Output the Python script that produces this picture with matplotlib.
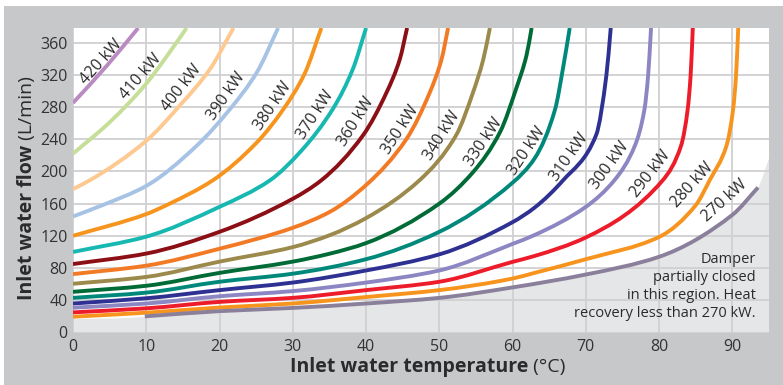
import numpy as np
import matplotlib.pyplot as plt
from matplotlib.patches import Rectangle, PathPatch
from matplotlib.path import Path

plt.rcParams['font.family'] = ['Open Sans', 'DejaVu Sans']

# values: inlet temperature (C) and flow (L/min) per curve
t420 = [0, 4.6, 8.9]
f420 = [285, 331, 378]
t410 = [0, 5, 10, 13.2, 15.5]
f410 = [222, 261, 309, 348, 378]
t400 = [0, 2.3, 10, 14.6, 18.7, 21.9]
f400 = [178, 189, 238, 282, 327, 378]
t390 = [0, 4, 10, 16.9, 21.4, 25.1, 28]
f390 = [144, 158, 182, 232, 277, 323, 378]
t380 = [0, 10, 13.2, 19.1, 25.1, 28.7, 31.6, 33.9]
f380 = [120, 147, 160, 189, 236, 277, 321, 378]
t370 = [0, 10, 20, 26.9, 31.2, 35.5, 38.2, 40]
f370 = [100, 119, 156, 189, 226, 278, 327, 378]
t360 = [0, 10, 20, 30, 33.9, 39.6, 42.8, 44.6, 45.6]
f360 = [85, 98, 125, 166, 189, 245, 298, 339, 378]
t350 = [0, 10, 20, 30, 35.1, 40, 45.5, 48.7, 50.3, 51.2]
f350 = [72.5, 83, 104, 130, 150, 183, 240, 298, 339, 378]
t340 = [0, 10, 20, 30, 35.1, 40, 47.3, 52.3, 54.6, 56, 56.9]
f340 = [60.5, 69, 88, 106, 121, 142, 189, 245, 298, 339, 378]
t330 = [0, 10, 20, 30, 35.1, 40, 50, 54.6, 58.3, 60.5, 61.9, 62.6]
f330 = [50.5, 58, 74, 88, 98, 111, 160, 199, 249, 303, 344, 378]
t320 = [0, 10, 20, 30, 40, 50, 60, 63, 65.8, 66.9, 67.8]
f320 = [43, 49.5, 63, 73, 91, 125, 186, 216, 277, 329, 378]
t310 = [0, 10, 20, 30, 40, 50, 60, 63, 66.9, 71.4, 72.8, 73.4]
f310 = [36, 42.5, 52.6, 62, 77, 97, 137, 155, 189, 245, 319, 378]
t300 = [0, 10, 20, 30, 40, 50, 60, 63, 70, 73.9, 76.7, 78, 78.5, 78.9]
f300 = [30.8, 36, 45, 51.4, 62, 77, 110, 121, 156, 189, 232, 277, 319, 378]
t290 = [0, 10, 20, 30, 40, 50, 60, 63, 70, 80.5, 83, 83.9, 84.3, 84.6]
f290 = [25, 30, 38, 43, 52.6, 63, 87.7, 95, 118, 189, 232, 277, 319, 378]
t280 = [0, 10, 20, 30, 40, 50, 60, 63, 70, 80, 85, 86.9, 89.2, 90.1, 90.5, 90.8]
f280 = [19.6, 24.6, 31, 36, 44, 52.6, 67, 74, 91, 118.6, 158, 189, 232, 277, 319, 378]
t270 = [9.8, 20, 30, 40, 50, 60, 70, 80, 90, 93.5]
f270 = [20, 26.5, 30.5, 36, 43, 56, 72, 94, 146, 180]

power = [420, 410, 400, 390, 380, 370, 360, 350, 340, 330, 320, 310, 300, 290, 280, 270]
colors = ['#b98bc2', '#c5df98', '#fdc990', '#a6c3e6', '#f7941d', '#17b8b1',
          '#8b0f15', '#f37a25', '#9b8a4b', '#006b37', '#00897a', '#2e3192',
          '#8c86c3', '#ed1c2a', '#f7941d', '#8b809c']
temps = [t420, t410, t400, t390, t380, t370, t360, t350, t340, t330, t320, t310, t300, t290, t280, t270]
flows = [f420, f410, f400, f390, f380, f370, f360, f350, f340, f330, f320, f310, f300, f290, f280, f270]

# label centre (temp, flow) and angle
lab_t = [3.8, 9.2, 14.8, 21.0, 27.3, 33.1, 38.7, 44.7, 50.4, 56.1, 62.0, 67.8, 73.3, 78.8, 84.5, 88.9]
lab_f = [336, 317, 304, 293, 281, 270, 262, 252, 244, 236, 225, 218, 207, 197, 183, 163]
lab_rot = [48, 49, 52, 55, 56, 57, 58, 57, 58, 56, 56, 55, 54, 52, 48, 42]

x_ticks = list(range(0, 100, 10))
y_ticks = list(range(0, 400, 40))


def smooth_path(x, y):
    # monotone cubic (Fritsch-Carlson) through the read points, drawn as bezier segments
    x = np.asarray(x, float)
    y = np.asarray(y, float)
    h = np.diff(x)
    d = np.diff(y) / h
    m = np.empty_like(y)
    m[0], m[-1] = d[0], d[-1]
    for k in range(1, len(x) - 1):
        if d[k - 1] * d[k] <= 0:
            m[k] = 0
        else:
            w1 = 2 * h[k] + h[k - 1]
            w2 = h[k] + 2 * h[k - 1]
            m[k] = (w1 + w2) / (w1 / d[k - 1] + w2 / d[k])
    verts = [(x[0], y[0])]
    codes = [Path.MOVETO]
    for k in range(len(h)):
        verts += [(x[k] + h[k] / 3, y[k] + m[k] * h[k] / 3),
                  (x[k + 1] - h[k] / 3, y[k + 1] - m[k + 1] * h[k] / 3),
                  (x[k + 1], y[k + 1])]
        codes += [Path.CURVE4] * 3
    return verts, codes


fig = plt.figure(figsize=(7.83, 3.85), dpi=100)
fig.patches.append(Rectangle((4 / 783, 0), 1, 1 - 6 / 385, transform=fig.transFigure,
                             facecolor='#c7c8ca', edgecolor='none', zorder=-10))
ax = fig.add_axes([73 / 783, 1 - 332.5 / 385, 696 / 783, 304.5 / 385])
ax.set_facecolor('white')

# damper region below the 270 kW curve
shade_t = [0, 9.8] + t270 + [95]
shade_f = [16.5, 19.5] + f270 + [216]
sv, sc = smooth_path(shade_t, shade_f)
sv += [(95, 0), (0, 0), (0, 16.5)]
sc += [Path.LINETO] * 3
ax.add_patch(PathPatch(Path(sv, sc), facecolor='#e5e6e7', edgecolor='none', zorder=0.2))

for t, f, c in zip(temps, flows, colors):
    v, cd = smooth_path(t, f)
    ax.add_patch(PathPatch(Path(v, cd), facecolor='none', edgecolor=c, lw=2.8,
                           capstyle='butt', zorder=2))

for p, x, y, r in zip(power, lab_t, lab_f, lab_rot):
    ax.text(x, y, '%d kW' % p, rotation=r, rotation_mode='anchor', ha='center', va='center',
            fontsize=11.5, color='#2b2b2b', zorder=3)

ax.text(93.2, 99.5, 'Damper\npartially closed\nin this region. Heat\nrecovery less than 270 kW.',
        ha='right', va='top', fontsize=10.5, color='#2b2b2b', linespacing=1.27, zorder=3)

ax.set_xlim(0, 95)
ax.set_ylim(0, 378)
ax.set_xticks(x_ticks)
ax.set_yticks(y_ticks)
ax.grid(True, color='#d0d0d2', lw=1.3)
ax.set_axisbelow(True)
for s in ax.spines.values():
    s.set_visible(False)
ax.tick_params(length=0, labelsize=11.5, colors='#333333')
ax.tick_params(axis='y', pad=4)
ax.tick_params(axis='x', pad=5)

xl = fig.text(290 / 783, 1 - 367 / 385, 'Inlet water temperature', fontsize=14,
              fontweight='bold', color='#2b2b2b', ha='left', va='center')
ax.annotate(' (°C)', xy=(1, 0.5), xycoords=xl, ha='left', va='center',
            fontsize=14, color='#2b2b2b')
yl = fig.text(27 / 783, 1 - 300 / 385, 'Inlet water flow', fontsize=14, rotation=90,
              fontweight='bold', color='#2b2b2b', ha='center', va='bottom')
ax.annotate(' (L/min)', xy=(0.5, 1), xycoords=yl, ha='center', va='bottom', rotation=90,
            fontsize=14, color='#2b2b2b')

fig.savefig('out.png', dpi=100)
